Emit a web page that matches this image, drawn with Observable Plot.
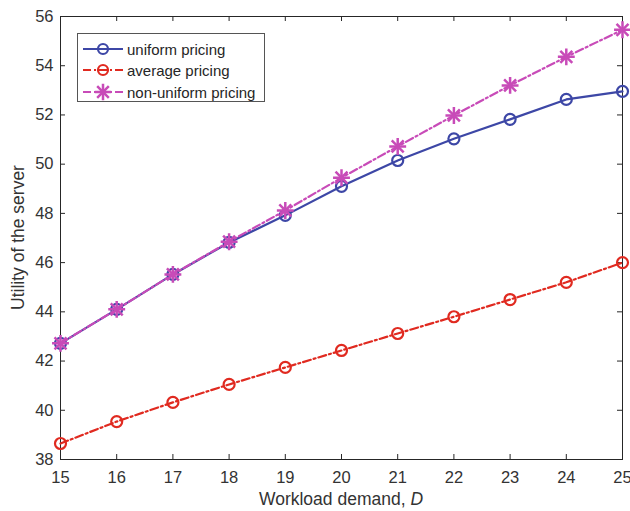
<!DOCTYPE html>
<html>
<head>
<meta charset="utf-8">
<script src="https://cdn.jsdelivr.net/npm/d3@7"></script>
<script src="https://cdn.jsdelivr.net/npm/@observablehq/plot@0.6"></script>
<style>
  html, body { margin: 0; padding: 0; background: #fff; }
  #wrap { position: relative; width: 630px; height: 511px; font-family: "Liberation Sans", Arial, sans-serif; }
  #legend { position: absolute; left: 77px; top: 33px; width: 186px; height: 67px; border: 1px solid #555; background: #fff; font-size: 15px; color: #262626; }
  .row { position: absolute; left: 5px; height: 20px; display: flex; align-items: center; }
  .row svg { margin-right: 4px; }
</style>
</head>
<body>
<div id="wrap"></div>
<script>
const demand = [15, 16, 17, 18, 19, 20, 21, 22, 23, 24, 25];
const uniformPricing = [42.72, 44.1, 45.52, 46.82, 47.92, 49.1, 50.15, 51.03, 51.82, 52.63, 52.96];
const averagePricing = [38.65, 39.54, 40.32, 41.05, 41.74, 42.43, 43.12, 43.8, 44.5, 45.2, 46.0];
const nonUniformPricing = [42.72, 44.1, 45.52, 46.85, 48.12, 49.45, 50.72, 51.98, 53.2, 54.36, 55.46];
const xTicks = [15, 16, 17, 18, 19, 20, 21, 22, 23, 24, 25];
const yTicks = [38, 40, 42, 44, 46, 48, 50, 52, 54, 56];
const seriesNames = ["uniform pricing", "average pricing", "non-uniform pricing"];
const colors = ["#3d47a6", "#e02a20", "#c84bb8"];
const dashes = [null, "8,3,2,3", "8,3,2,3"];

const rows = (vals) => demand.map((d, i) => ({x: d, y: vals[i]}));
const U = rows(uniformPricing), A = rows(averagePricing), N = rows(nonUniformPricing);

const W = 630, H = 511, mt = 16, mb = 52, ml = 60, mr = 8;
const innerH = H - mt - mb, innerW = W - ml - mr;
const tk = 5;
const axisColor = "#262626";
const labelColor = "#333";

const chart = Plot.plot({
  width: W, height: H,
  marginTop: mt, marginBottom: mb, marginLeft: ml, marginRight: mr,
  style: {fontFamily: "'Liberation Sans', Arial, sans-serif", fontSize: "16.5px", color: labelColor, background: "#fff"},
  x: {domain: [15, 25]},
  y: {domain: [38, 56]},
  marks: [
    Plot.tickX(xTicks, {x: d => d, insetTop: innerH - tk, stroke: axisColor}),
    Plot.tickX(xTicks, {x: d => d, insetBottom: innerH - tk, stroke: axisColor}),
    Plot.tickY(yTicks, {y: d => d, insetRight: innerW - tk, stroke: axisColor}),
    Plot.tickY(yTicks, {y: d => d, insetLeft: innerW - tk, stroke: axisColor}),
    Plot.axisX({ticks: xTicks, tickSize: 0, tickPadding: 12, label: null, fill: labelColor, fontSize: 16.5}),
    Plot.axisY({ticks: yTicks, tickSize: 0, tickPadding: 7, label: null, fill: labelColor, fontSize: 16.5}),
    Plot.frame({stroke: axisColor, strokeWidth: 1}),
    Plot.line(A, {x: "x", y: "y", stroke: colors[1], strokeWidth: 2.2, strokeDasharray: dashes[1]}),
    Plot.dot(A, {x: "x", y: "y", r: 5.5, stroke: colors[1], strokeWidth: 2.2, fill: "none"}),
    Plot.line(U, {x: "x", y: "y", stroke: colors[0], strokeWidth: 2.2}),
    Plot.dot(U, {x: "x", y: "y", r: 5.5, stroke: colors[0], strokeWidth: 2.2, fill: "none"}),
    Plot.line(N, {x: "x", y: "y", stroke: colors[2], strokeWidth: 2.2, strokeDasharray: dashes[2]}),
    Plot.dot(N, {x: "x", y: "y", symbol: "plus", r: 5.5, stroke: colors[2], strokeWidth: 2.5}),
    Plot.dot(N, {x: "x", y: "y", symbol: "times", r: 5.5, stroke: colors[2], strokeWidth: 2.5})
  ]
});

const wrap = document.getElementById("wrap");
wrap.appendChild(chart);

// axis titles with mixed styles
const svg = d3.select(chart);
const xt = svg.append("text")
  .attr("x", ml + innerW / 2).attr("y", 505)
  .attr("text-anchor", "middle").attr("fill", labelColor).attr("font-size", 17.5);
xt.append("tspan").text("Workload demand, ");
xt.append("tspan").attr("font-style", "italic").text("D");
svg.append("text")
  .attr("transform", `translate(24,${mt + innerH / 2}) rotate(-90)`)
  .attr("text-anchor", "middle").attr("fill", labelColor).attr("font-size", 17.5)
  .text("Utility of the server");

// legend
const leg = document.createElement("div");
leg.id = "legend";
wrap.appendChild(leg);
const tops = [5, 26, 48];
seriesNames.forEach((name, i) => {
  const r = document.createElement("div");
  r.className = "row";
  r.style.top = tops[i] + "px";
  const s = d3.create("svg").attr("width", 40).attr("height", 20);
  const ln = s.append("line").attr("x1", 0).attr("x2", 40).attr("y1", 10).attr("y2", 10)
    .attr("stroke", colors[i]).attr("stroke-width", 2.2);
  if (dashes[i]) ln.attr("stroke-dasharray", dashes[i]);
  if (i < 2) {
    s.append("circle").attr("cx", 20).attr("cy", 10).attr("r", 5).attr("fill", "none")
      .attr("stroke", colors[i]).attr("stroke-width", 2.2);
  } else {
    s.append("path").attr("d", d3.symbol(d3.symbolPlus, 90)()).attr("transform", "translate(20,10)")
      .attr("stroke", colors[i]).attr("stroke-width", 2.5).attr("fill", "none");
    s.append("path").attr("d", d3.symbol(d3.symbolTimes, 90)()).attr("transform", "translate(20,10)")
      .attr("stroke", colors[i]).attr("stroke-width", 2.5).attr("fill", "none");
  }
  r.appendChild(s.node());
  const t = document.createElement("span");
  t.textContent = name;
  r.appendChild(t);
  leg.appendChild(r);
});
</script>
</body>
</html>
